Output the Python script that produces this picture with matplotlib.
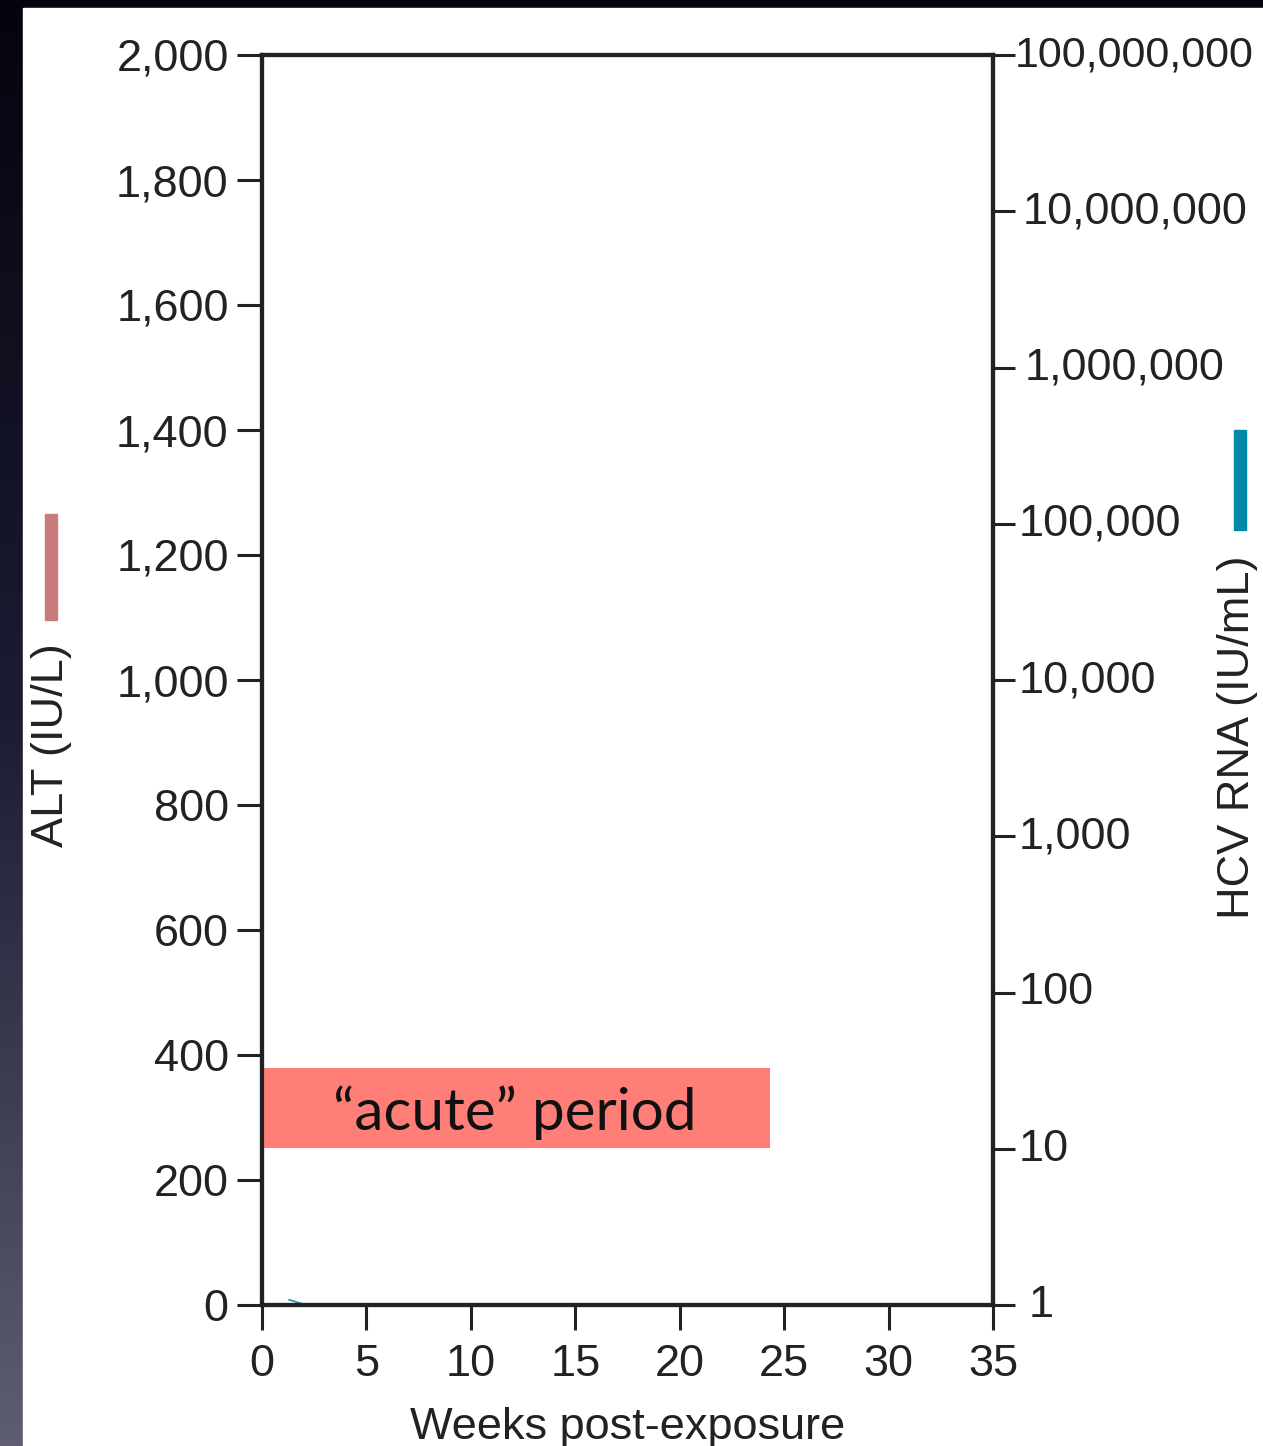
import numpy as np
import matplotlib
matplotlib.use("Agg")
import matplotlib.pyplot as plt
import matplotlib.transforms as mtransforms
from matplotlib.patches import Rectangle
from matplotlib.colors import LinearSegmentedColormap

# ---- data ----
weeks_ticks = [0, 5, 10, 15, 20, 25, 30, 35]
alt_ticks = [0, 200, 400, 600, 800, 1000, 1200, 1400, 1600, 1800, 2000]
alt_labels = ["0", "200", "400", "600", "800", "1,000", "1,200", "1,400", "1,600", "1,800", "2,000"]
rna_ticks = [1, 10, 100, 1e3, 1e4, 1e5, 1e6, 1e7, 1e8]
rna_labels = ["1", "10", "100", "1,000", "10,000", "100,000", "1,000,000", "10,000,000", "100,000,000"]
acute_weeks = [0, 24.3]
acute_alt = [251, 379]
rna_weeks = [1.3, 2.1]
rna_values = [1.08, 1.0]

W, H = 1263, 1446
fig = plt.figure(figsize=(W / 100, H / 100), dpi=100)

# background gradient
bg = fig.add_axes([0, 0, 1, 1], zorder=-10)
cmap = LinearSegmentedColormap.from_list("bg", ["#04040e", "#1c1c34", "#5e5e70"])
grad = np.linspace(0, 1, 256).reshape(-1, 1)
bg.imshow(grad, aspect="auto", cmap=cmap, extent=[0, 1, 0, 1], origin="upper")
bg.add_patch(Rectangle((23 / W, 0), 1 - 23 / W, 1 - 8 / H, color="white", transform=bg.transAxes))
bg.set_xlim(0, 1); bg.set_ylim(0, 1)
bg.axis("off")

font = "Liberation Sans"
tc = "#222222"
fs = 32.5

ax = fig.add_axes([262 / W, 141 / H, 731 / W, 1250 / H])
ax.set_facecolor("none")
ax.set_xlim(0, 35)
ax.set_ylim(0, 2000)
ax.set_xticks(weeks_ticks)
ax.set_xticklabels([str(t) for t in weeks_ticks], fontfamily=font, fontsize=fs, color=tc)
ax.set_yticks(alt_ticks)
ax.set_yticklabels(alt_labels, fontfamily=font, fontsize=fs, color=tc)
for s in ax.spines.values():
    s.set_linewidth(3.0)
    s.set_color("#222222")
ax.tick_params(axis="y", direction="out", length=18, width=2.2, pad=6, color="#222222")
ax.tick_params(axis="x", direction="out", length=18, width=2.2, pad=10, color="#222222")
ax.set_xlabel("Weeks post-exposure", fontfamily=font, fontsize=fs, color=tc, labelpad=16)

ax2 = ax.twinx()
ax2.set_yscale("log")
ax2.set_ylim(1, 1e8)
ax2.set_yticks(rna_ticks)
ax2.set_yticklabels(rna_labels, fontfamily=font, fontsize=fs, color=tc)
ax2.minorticks_off()
for s in ax2.spines.values():
    s.set_linewidth(3.0)
    s.set_color("#222222")
ax2.tick_params(axis="y", direction="out", length=16, width=2.2, pad=1, color="#222222")
x_offsets = [12, 2, 2, 2, 2, 2, 8, 6, -2]
for lbl, dx in zip(ax2.get_yticklabels(), x_offsets):
    shift = mtransforms.ScaledTranslation(dx / 100, 4 / 100, fig.dpi_scale_trans)
    lbl.set_transform(lbl.get_transform() + shift)
ax2.get_yticklabels()[-1].set_fontsize(31)
ax2.plot(rna_weeks, rna_values, color="#1a8aa8", lw=1.2, clip_on=False)

# acute period box
ax.add_patch(Rectangle((acute_weeks[0], acute_alt[0]), acute_weeks[1] - acute_weeks[0],
                       acute_alt[1] - acute_alt[0], color="#ff7f78", zorder=3, lw=0))
ax.text(sum(acute_weeks) / 2 - 0.05, 280, "\u201cacute\u201d period",
        fontfamily="Lato", fontsize=42, color="#111111",
        ha="center", va="baseline", zorder=4)

# axis titles and legend bars (figure coords)
fig.text(52 / W, 1 - 745 / H, "ALT (IU/L)", rotation=90, ha="center", va="center",
         fontfamily=font, fontsize=fs, color=tc)
fig.text(1238 / W, 1 - 737 / H, "HCV RNA (IU/mL)", rotation=90, ha="center", va="center",
         fontfamily=font, fontsize=fs, color=tc)
fig.patches.append(Rectangle((45 / W, 1 - 620 / H), 12 / W, 106 / H, color="#c97b80",
                             transform=fig.transFigure, figure=fig))
fig.patches.append(Rectangle((1234 / W, 1 - 530 / H), 12 / W, 100 / H, color="#0088a8",
                             transform=fig.transFigure, figure=fig))

fig.savefig("out.png", dpi=100)
